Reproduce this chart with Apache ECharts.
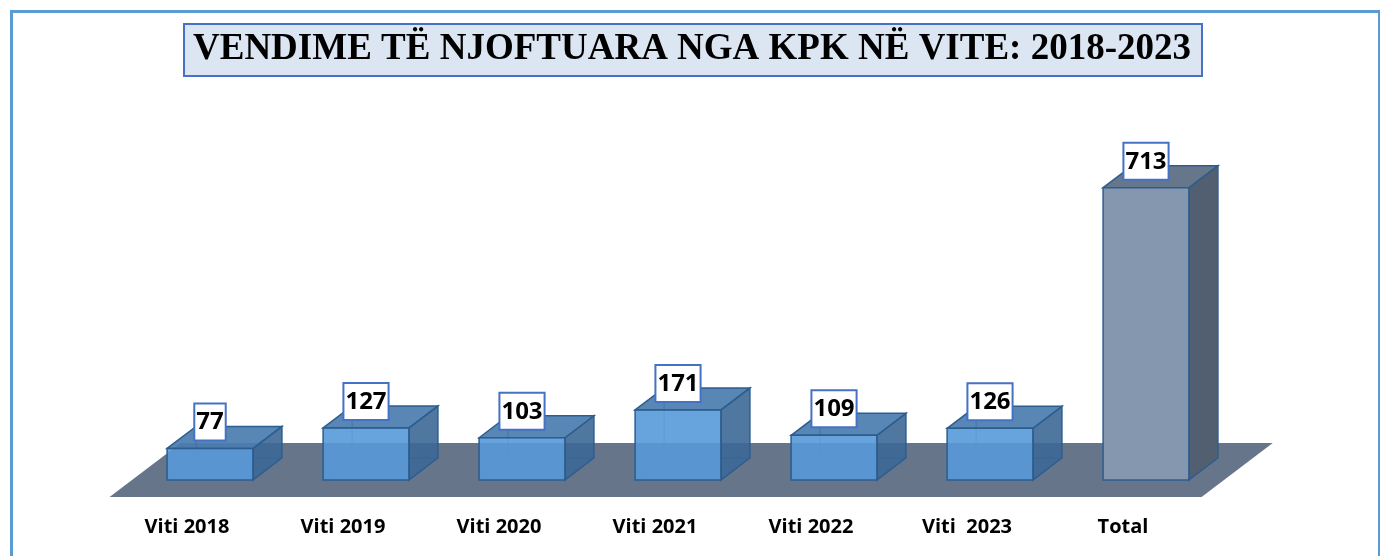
<!DOCTYPE html>
<html>
<head>
<meta charset="utf-8">
<script src="https://cdn.jsdelivr.net/npm/echarts@6/dist/echarts.min.js"></script>
<style>
html,body{margin:0;padding:0;background:#fff;}
#chart{width:1380px;height:556px;}
</style>
</head>
<body>
<div id="chart"></div>
<script>
const titleText = 'VENDIME TË NJOFTUARA NGA KPK NË VITE: 2018-2023';
const categories = ['Viti 2018', 'Viti 2019', 'Viti 2020', 'Viti 2021', 'Viti 2022', 'Viti  2023', 'Total'];
const values = [77, 127, 103, 171, 109, 126, 713];

const DX = 29, DY = -22;           // 3D depth vector (pixels)
const BAR_RATIO = 0.55;

function renderFloor(params, api) {
  const cs = params.coordSys;
  const y0 = api.coord([0, 0])[1];
  const tf = -17 / 22, tb = 37 / 22;
  const xl = cs.x, xr = cs.x + cs.width;
  return {
    type: 'polygon',
    shape: { points: [
      [xl + DX * tf, y0 + DY * tf],
      [xr + DX * tf, y0 + DY * tf],
      [xr + DX * tb, y0 + DY * tb],
      [xl + DX * tb, y0 + DY * tb]
    ] },
    style: { fill: '#67758a' }
  };
}

function renderBar(params, api) {
  const idx = api.value(0);
  const v = api.value(1);
  const top = api.coord([idx, v]);
  const base = api.coord([idx, 0]);
  const bw = api.size([1, 0])[0] * BAR_RATIO;
  const x0 = top[0] - bw / 2, x1 = top[0] + bw / 2;
  const yT = top[1], yB = base[1];
  const isTotal = categories[idx] === 'Total';
  const edge = '#2c5d8f';
  const c = isTotal
    ? { front: '#8497ae', top: '#66768b', side: '#525f70' }
    : { front: 'rgba(86,153,216,0.9)', top: 'rgba(74,125,176,0.92)', side: 'rgba(60,104,150,0.9)' };
  const children = [];
  children.push({ type: 'polygon', shape: { points: [[x1, yT], [x1 + DX, yT + DY], [x1 + DX, yB + DY], [x1, yB]] },
    style: { fill: c.side, stroke: edge, lineWidth: 1.5 } });
  children.push({ type: 'polygon', shape: { points: [[x0, yT], [x0 + DX, yT + DY], [x1 + DX, yT + DY], [x1, yT]] },
    style: { fill: c.top, stroke: edge, lineWidth: 1.5 } });
  if (!isTotal) {
    const hs = { stroke: 'rgba(50,100,150,0.55)', lineWidth: 1, fill: null };
    children.push({ type: 'polyline', shape: { points: [[x0, yB], [x0 + DX, yB + DY], [x1 + DX, yB + DY]] }, style: hs });
    children.push({ type: 'line', shape: { x1: x0 + DX, y1: yB + DY, x2: x0 + DX, y2: yT + DY }, style: hs });
  }
  children.push({ type: 'rect', shape: { x: x0, y: yT, width: bw, height: yB - yT },
    style: { fill: c.front, stroke: edge, lineWidth: 1.5 } });
  children.push({ type: 'text', x: top[0], y: yT - 9,
    style: {
      text: String(v), align: 'center', verticalAlign: 'bottom',
      font: 'bold 24px "Open Sans", Lato, sans-serif', fill: '#000',
      backgroundColor: '#fff', borderColor: '#4472c4', borderWidth: 2,
      padding: [6, 1, 5, 1]
    } });
  return { type: 'group', children: children };
}

const chart = echarts.init(document.getElementById('chart'), null, { renderer: 'canvas' });
chart.setOption({
  animation: false,
  backgroundColor: '#fff',
  title: {
    text: titleText,
    left: 184, top: 24,
    padding: [7, 11, 8, 9],
    backgroundColor: '#dce6f2',
    borderColor: '#4472c4', borderWidth: 2,
    textStyle: { fontFamily: '"Liberation Serif", "Times New Roman", serif', fontWeight: 'bold', fontSize: 37, color: '#000' }
  },
  graphic: [{
    type: 'rect', left: 9, top: 9, z: -1,
    shape: { width: 1368, height: 570 },
    style: { fill: null, stroke: '#5b9bd5', lineWidth: 3 }
  }],
  grid: { left: 132, right: 156, top: 152, bottom: 76 },
  xAxis: {
    type: 'category', data: categories,
    axisLine: { show: false }, axisTick: { show: false },
    axisLabel: { margin: 37, fontSize: 20, fontWeight: 'bold', color: '#000',
      fontFamily: '"Open Sans", Lato, sans-serif', padding: [0, 46, 0, 0] }
  },
  yAxis: { type: 'value', min: 0, max: 800, show: false, splitLine: { show: false } },
  series: [
    { type: 'custom', name: 'floor', renderItem: renderFloor, data: [[0, 0]], clip: false, z: 1, silent: true },
    { type: 'custom', name: 'bars', renderItem: renderBar, clip: false, z: 2,
      encode: { x: 0, y: 1 },
      data: values.map((v, i) => [i, v]) }
  ]
});
</script>
</body>
</html>
